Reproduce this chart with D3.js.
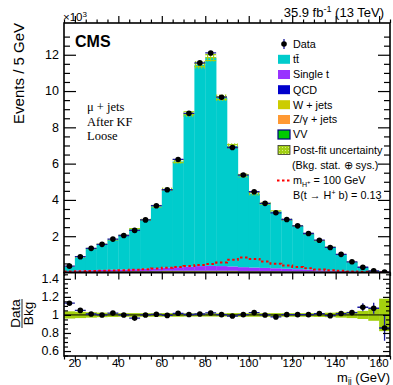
<!DOCTYPE html>
<html><head><meta charset="utf-8">
<script src="https://cdn.jsdelivr.net/npm/d3@7"></script>
<style>
body{margin:0;background:#fff}
svg{display:block}
text{font-family:"Liberation Sans",Arial,Helvetica,sans-serif;fill:#000}
.serif{font-family:"Liberation Serif","Times New Roman",serif}
</style>
</head><body>
<svg id="c" width="393" height="385"></svg>
<script>
// ---- data (events in units of 10^3 per 5 GeV bin) ----
const binLow = [15,20,25,30,35,40,45,50,55,60,65,70,75,80,85,90,95,100,105,110,115,120,125,130,135,140,145,150,155,160];
const dataVals = [0.35,0.87,1.33,1.55,1.84,2.04,2.32,2.90,3.68,4.56,6.23,8.77,11.55,12.10,9.66,6.89,5.37,4.45,3.81,3.29,2.92,2.57,2.15,1.78,1.38,1.00,0.59,0.29,0.09,0.02];
const ttbar   = [0.24,0.72,1.20,1.41,1.65,1.88,2.22,2.70,3.42,4.32,5.83,8.41,11.09,11.48,9.28,6.64,5.06,4.07,3.56,3.13,2.71,2.38,1.98,1.63,1.28,0.90,0.50,0.225,0.056,0.009];
const singleT = [0.03,0.05,0.06,0.07,0.08,0.09,0.10,0.12,0.14,0.16,0.19,0.22,0.25,0.26,0.25,0.23,0.21,0.19,0.17,0.15,0.13,0.11,0.09,0.07,0.06,0.05,0.03,0.02,0.01,0.005];
const qcd     = [0.01,0.02,0.02,0.02,0.02,0.02,0.02,0.02,0.03,0.03,0.03,0.03,0.03,0.03,0.03,0.03,0.02,0.02,0.02,0.02,0.02,0.02,0.02,0.01,0.01,0.01,0.01,0.005,0.003,0.001];
const wjets   = [0.02,0.03,0.03,0.04,0.04,0.04,0.05,0.05,0.05,0.06,0.06,0.06,0.06,0.06,0.06,0.06,0.05,0.05,0.05,0.05,0.04,0.04,0.04,0.03,0.03,0.02,0.02,0.01,0.01,0.005];
const zjets   = [0.01,0.01,0.01,0.01,0.01,0.01,0.01,0.01,0.01,0.01,0.01,0.01,0.01,0.01,0.01,0.01,0.01,0.01,0.01,0.01,0.01,0.01,0.01,0.01,0.01,0.01,0.01,0.006,0.003,0.002];
const vv      = [0.004,0.004,0.004,0.004,0.004,0.004,0.004,0.004,0.004,0.004,0.004,0.004,0.004,0.004,0.004,0.004,0.004,0.004,0.004,0.004,0.004,0.004,0.004,0.004,0.004,0.004,0.004,0.004,0.002,0.001];
const signal  = [0.05,0.07,0.08,0.09,0.11,0.13,0.15,0.18,0.22,0.26,0.31,0.36,0.42,0.47,0.55,0.70,0.82,0.75,0.60,0.48,0.38,0.30,0.23,0.17,0.12,0.09,0.06,0.04,0.02,0.01];
const ratioVals = [1.13,1.05,1.01,1.0,1.02,1.0,0.965,1.0,1.007,0.995,1.018,1.005,1.01,1.022,1.003,0.988,1.003,1.026,1.0,0.978,1.003,1.003,1.003,1.015,0.992,1.015,1.026,1.085,1.074,0.855];
const ratioErr  = [0.02,0.012,0.01,0.01,0.008,0.008,0.008,0.007,0.006,0.005,0.005,0.004,0.004,0.004,0.004,0.005,0.005,0.006,0.006,0.007,0.007,0.008,0.008,0.009,0.01,0.012,0.016,0.045,0.06,0.14];
const relUnc    = [0.04,0.035,0.03,0.025,0.022,0.02,0.02,0.02,0.02,0.02,0.02,0.018,0.018,0.018,0.018,0.02,0.02,0.02,0.02,0.02,0.02,0.02,0.02,0.022,0.025,0.03,0.035,0.045,0.065,0.18];
const yTicksMain = [2,4,6,8,10,12];
const yTicksRatio = [0.6,0.8,1,1.2,1.4];
const xTicks = [20,40,60,80,100,120,140,160];
const binWidth = 5;

const keys = ["vv","zjets","wjets","qcd","singleT","ttbar"];
const colors = {ttbar:"#00cccc", singleT:"#9933ff", qcd:"#0000cc", wjets:"#cccc00", zjets:"#ff9933", vv:"#00cc00"};
const series = {ttbar, singleT, qcd, wjets, zjets, vv};

// ---- geometry ----
const L = 64, R = 390, T = 23, MID = 272.5, B = 356;
const svg = d3.select("#c");
const x = d3.scaleLinear().domain([15,165]).range([L,R]);
const y = d3.scaleLinear().domain([0,13.75]).range([MID,T]);
const yr = d3.scaleLinear().domain([0.545,1.47]).range([B,MID]);

const defs = svg.append("defs");
const pat = defs.append("pattern").attr("id","unc").attr("width",3).attr("height",3).attr("patternUnits","userSpaceOnUse");
pat.append("rect").attr("width",3).attr("height",3).attr("fill","#a2cf14");
pat.append("rect").attr("width",1).attr("height",1).attr("fill","#d8ec80");
const pat2 = defs.append("pattern").attr("id","unc2").attr("width",3).attr("height",3).attr("patternUnits","userSpaceOnUse");
pat2.append("rect").attr("width",3).attr("height",1.2).attr("fill","#a2cf14");
pat2.append("rect").attr("width",1.2).attr("height",3).attr("fill","#a2cf14");
defs.append("clipPath").attr("id","clipTop").append("rect").attr("x",L).attr("y",T).attr("width",R-L).attr("height",MID-T);
defs.append("clipPath").attr("id","clipBot").append("rect").attr("x",L).attr("y",MID).attr("width",R-L).attr("height",B-MID);

// ---- stacked histogram ----
const rows = binLow.map((b,i)=>{const r={b}; keys.forEach(k=>r[k]=series[k][i]); return r;});
const stacked = d3.stack().keys(keys)(rows);
const gTop = svg.append("g").attr("clip-path","url(#clipTop)");
stacked.forEach(s=>{
  gTop.append("g").selectAll("rect").data(s).join("rect")
    .attr("x",d=>x(d.data.b)).attr("width",d=>x(d.data.b+binWidth)-x(d.data.b)+0.3)
    .attr("y",d=>y(d[1])).attr("height",d=>Math.max(0,y(d[0])-y(d[1])))
    .attr("fill",colors[s.key]);
});
const totals = rows.map(r=>d3.sum(keys,k=>r[k]));
// uncertainty band
gTop.append("g").selectAll("rect").data(binLow).join("rect")
  .attr("x",b=>x(b)).attr("width",b=>x(b+binWidth)-x(b))
  .attr("y",(b,i)=>y(totals[i]*(1+relUnc[i]))).attr("height",(b,i)=>y(totals[i]*(1-relUnc[i]))-y(totals[i]*(1+relUnc[i])))
  .attr("fill","url(#unc2)");
// signal dotted step line
const sigPts = binLow.map((b,i)=>[b,signal[i]]).concat([[binLow[binLow.length-1]+binWidth, signal[signal.length-1]]]);
gTop.append("path").attr("d",d3.line().x(d=>x(d[0])).y(d=>y(d[1])).curve(d3.curveStepAfter)(sigPts))
  .attr("fill","none").attr("stroke","#ff0000").attr("stroke-width",2).attr("stroke-dasharray","2.5,2.5");
// data
const gd = gTop.append("g");
gd.selectAll("line").data(binLow).join("line")
  .attr("x1",b=>x(b)).attr("x2",b=>x(b+binWidth)).attr("y1",(b,i)=>y(dataVals[i])).attr("y2",(b,i)=>y(dataVals[i]))
  .attr("stroke","#1a1a9e").attr("stroke-width",1.3);
gd.selectAll("circle").data(binLow).join("circle")
  .attr("cx",b=>x(b+binWidth/2)).attr("cy",(b,i)=>y(dataVals[i])).attr("r",2.8).attr("fill","#000");

// ---- ratio panel ----
const gBot = svg.append("g").attr("clip-path","url(#clipBot)");
gBot.append("g").selectAll("rect").data(binLow).join("rect")
  .attr("x",b=>x(b)).attr("width",b=>x(b+binWidth)-x(b)+0.3)
  .attr("y",(b,i)=>yr(1+relUnc[i])).attr("height",(b,i)=>yr(1-relUnc[i])-yr(1+relUnc[i]))
  .attr("fill","#a3d00e");
gBot.append("line").attr("x1",L).attr("x2",R).attr("y1",yr(1)).attr("y2",yr(1)).attr("stroke","#000").attr("stroke-width",1);
const gr = gBot.append("g");
gr.selectAll("line.h").data(binLow).join("line").attr("class","h")
  .attr("x1",b=>x(b)).attr("x2",b=>x(b+binWidth)).attr("y1",(b,i)=>yr(ratioVals[i])).attr("y2",(b,i)=>yr(ratioVals[i]))
  .attr("stroke","#1a1a9e").attr("stroke-width",1.3);
gr.selectAll("line.v").data(binLow).join("line").attr("class","v")
  .attr("x1",b=>x(b+binWidth/2)).attr("x2",b=>x(b+binWidth/2))
  .attr("y1",(b,i)=>yr(ratioVals[i]-ratioErr[i])).attr("y2",(b,i)=>yr(ratioVals[i]+ratioErr[i]))
  .attr("stroke","#1a1a9e").attr("stroke-width",1.3);
gr.selectAll("circle").data(binLow).join("circle")
  .attr("cx",b=>x(b+binWidth/2)).attr("cy",(b,i)=>yr(ratioVals[i])).attr("r",2.8).attr("fill","#000");

// ---- axes ----
function axisG(gen, tx, ty){
  const g = svg.append("g").attr("transform",`translate(${tx},${ty})`).call(gen);
  g.select(".domain").remove();
  g.selectAll("line").attr("stroke","#000").attr("stroke-width",1.2);
  g.selectAll("text").remove();
  return g;
}
const xMinor = binLow.concat([165]).filter(v=>v%20!==0);
const yMinorMain = d3.range(0,27).map(i=>i*0.5).filter(v=>v>0 && v%2!==0);
const yMinorRatio = [0.55,0.65,0.7,0.75,0.85,0.9,0.95,1.05,1.1,1.15,1.25,1.3,1.35,1.45];
// upper panel
axisG(d3.axisLeft(y).tickValues(yTicksMain).tickSize(-12), L, 0);
axisG(d3.axisLeft(y).tickValues(yMinorMain).tickSize(-6), L, 0);
axisG(d3.axisRight(y).tickValues(yTicksMain).tickSize(-12), R, 0);
axisG(d3.axisRight(y).tickValues(yMinorMain).tickSize(-6), R, 0);
axisG(d3.axisTop(x).tickValues(xTicks).tickSize(-7), 0, MID);
axisG(d3.axisTop(x).tickValues(xMinor).tickSize(-3.5), 0, MID);
axisG(d3.axisBottom(x).tickValues(xTicks).tickSize(-7), 0, T);
axisG(d3.axisBottom(x).tickValues(xMinor).tickSize(-3.5), 0, T);
// ratio panel
axisG(d3.axisLeft(yr).tickValues(yTicksRatio).tickSize(-7), L, 0);
axisG(d3.axisLeft(yr).tickValues(yMinorRatio).tickSize(-4), L, 0);
axisG(d3.axisRight(yr).tickValues(yTicksRatio).tickSize(-7), R, 0);
axisG(d3.axisRight(yr).tickValues(yMinorRatio).tickSize(-4), R, 0);
axisG(d3.axisTop(x).tickValues(xTicks).tickSize(-6), 0, B);
axisG(d3.axisTop(x).tickValues(xMinor).tickSize(-3.5), 0, B);

// frames
svg.append("rect").attr("x",L).attr("y",T).attr("width",R-L).attr("height",MID-T).attr("fill","none").attr("stroke","#000").attr("stroke-width",1.6);
svg.append("rect").attr("x",L).attr("y",MID).attr("width",R-L).attr("height",B-MID).attr("fill","none").attr("stroke","#000").attr("stroke-width",1.6);

// tick labels
svg.append("g").selectAll("text").data(yTicksMain).join("text")
  .attr("x",L-5).attr("y",d=>y(d)+4.3).attr("text-anchor","end").attr("font-size",12.5).attr("fill","#222").text(d=>d);
svg.append("g").selectAll("text").data(yTicksRatio).join("text")
  .attr("x",L-5).attr("y",d=>yr(d)+4.3).attr("text-anchor","end").attr("font-size",12.5).attr("fill","#222").text(d=>d);
svg.append("g").selectAll("text").data(xTicks).join("text")
  .attr("x",d=>x(d)).attr("y",366.5).attr("text-anchor","middle").attr("font-size",11.5).attr("fill","#222").text(d=>d);

// axis titles
const xt = svg.append("text").attr("x",R).attr("y",381.5).attr("text-anchor","end").attr("font-size",13).attr("fill","#222");
xt.append("tspan").text("m");
xt.append("tspan").attr("font-size",8.5).attr("dy",2).text("jj");
xt.append("tspan").attr("dy",-2).text(" (GeV)");
svg.append("text").attr("transform",`translate(24,${T}) rotate(-90)`).attr("text-anchor","end").attr("font-size",15).attr("fill","#222").text("Events / 5 GeV");
svg.append("text").attr("transform",`translate(20,313.5) rotate(-90)`).attr("text-anchor","middle").attr("font-size",13.5).attr("fill","#222").text("Data");
svg.append("line").attr("x1",22).attr("x2",22).attr("y1",299).attr("y2",328).attr("stroke","#222").attr("stroke-width",1);
svg.append("text").attr("transform",`translate(33,313.5) rotate(-90)`).attr("text-anchor","middle").attr("font-size",13.5).attr("fill","#222").text("Bkg");

// x10^3
const e3 = svg.append("text").attr("x",63).attr("y",21).attr("font-size",11.5).attr("fill","#222");
e3.append("tspan").text("×10");
e3.append("tspan").attr("dy",-4.5).attr("font-size",8).text("3");
// lumi
const lumi = svg.append("text").attr("x",384).attr("y",17).attr("text-anchor","end").attr("font-size",13).attr("fill","#222");
lumi.append("tspan").text("35.9 fb");
lumi.append("tspan").attr("dy",-5).attr("font-size",9).text("-1");
lumi.append("tspan").attr("dy",5).text(" (13 TeV)");
// CMS
svg.append("text").attr("x",75).attr("y",47).attr("font-size",16).attr("font-weight","bold").text("CMS");
// selection labels
svg.append("text").attr("class","serif").attr("x",87).attr("y",111).attr("font-size",12.5).text("\u03bc + jets");
svg.append("text").attr("class","serif").attr("x",87).attr("y",126).attr("font-size",12.5).text("After KF");
svg.append("text").attr("class","serif").attr("x",87).attr("y",140).attr("font-size",12.5).text("Loose");

// ---- legend ----
const lg = svg.append("g");
const bx = 278, tx0 = 293, fs = 10.8;
lg.append("line").attr("x1",284).attr("x2",284).attr("y1",39).attr("y2",49).attr("stroke","#1a1a9e").attr("stroke-width",1.3);
lg.append("circle").attr("cx",284).attr("cy",44).attr("r",2.8).attr("fill","#000");
lg.append("text").attr("x",tx0).attr("y",44+3.8).attr("font-size",fs).text("Data");
const entries = [["ttbar",null,59.3],["singleT","Single t",74.5],["qcd","QCD",89.7],["wjets","W + jets",104.7],["zjets","Z/\u03b3 + jets",119.5],["vv","VV",134.5]];
entries.forEach(([k,lab,cy])=>{
  lg.append("rect").attr("x",bx).attr("y",cy-4.5).attr("width",12).attr("height",9).attr("fill",colors[k])
    .attr("stroke",k==="vv"?"#000080":"none").attr("stroke-width",1.2);
  const t = lg.append("text").attr("x",tx0).attr("y",cy+3.8).attr("font-size",fs);
  if(lab) t.text(lab); else t.text("tt\u0304");
});
lg.append("rect").attr("x",bx).attr("y",150-4.5).attr("width",12).attr("height",9).attr("fill","url(#unc)").attr("stroke","#333").attr("stroke-width",0.8);
lg.append("text").attr("x",tx0).attr("y",150+3.8).attr("font-size",fs).text("Post-fit uncertainty");
lg.append("text").attr("x",tx0-1).attr("y",165+3.8).attr("font-size",fs).text("(Bkg. stat. \u2295 sys.)");
lg.append("line").attr("x1",277).attr("x2",291).attr("y1",180.5).attr("y2",180.5).attr("stroke","#ff0000").attr("stroke-width",2).attr("stroke-dasharray","2.5,2.5");
const ms = lg.append("text").attr("x",tx0).attr("y",180.5+3.8).attr("font-size",fs);
ms.append("tspan").text("m");
ms.append("tspan").attr("font-size",7).attr("dy",3).text("H");
ms.append("tspan").attr("font-size",6).attr("dy",-3).text("+");
ms.append("tspan").attr("dy",0).text(" = 100 GeV");
const br = lg.append("text").attr("x",tx0).attr("y",195+3.8).attr("font-size",fs);
br.append("tspan").text("B(t \u2192 H");
br.append("tspan").attr("font-size",7).attr("dy",-4).text("+");
br.append("tspan").attr("dy",4).text(" b) = 0.13");
</script>
</body></html>
